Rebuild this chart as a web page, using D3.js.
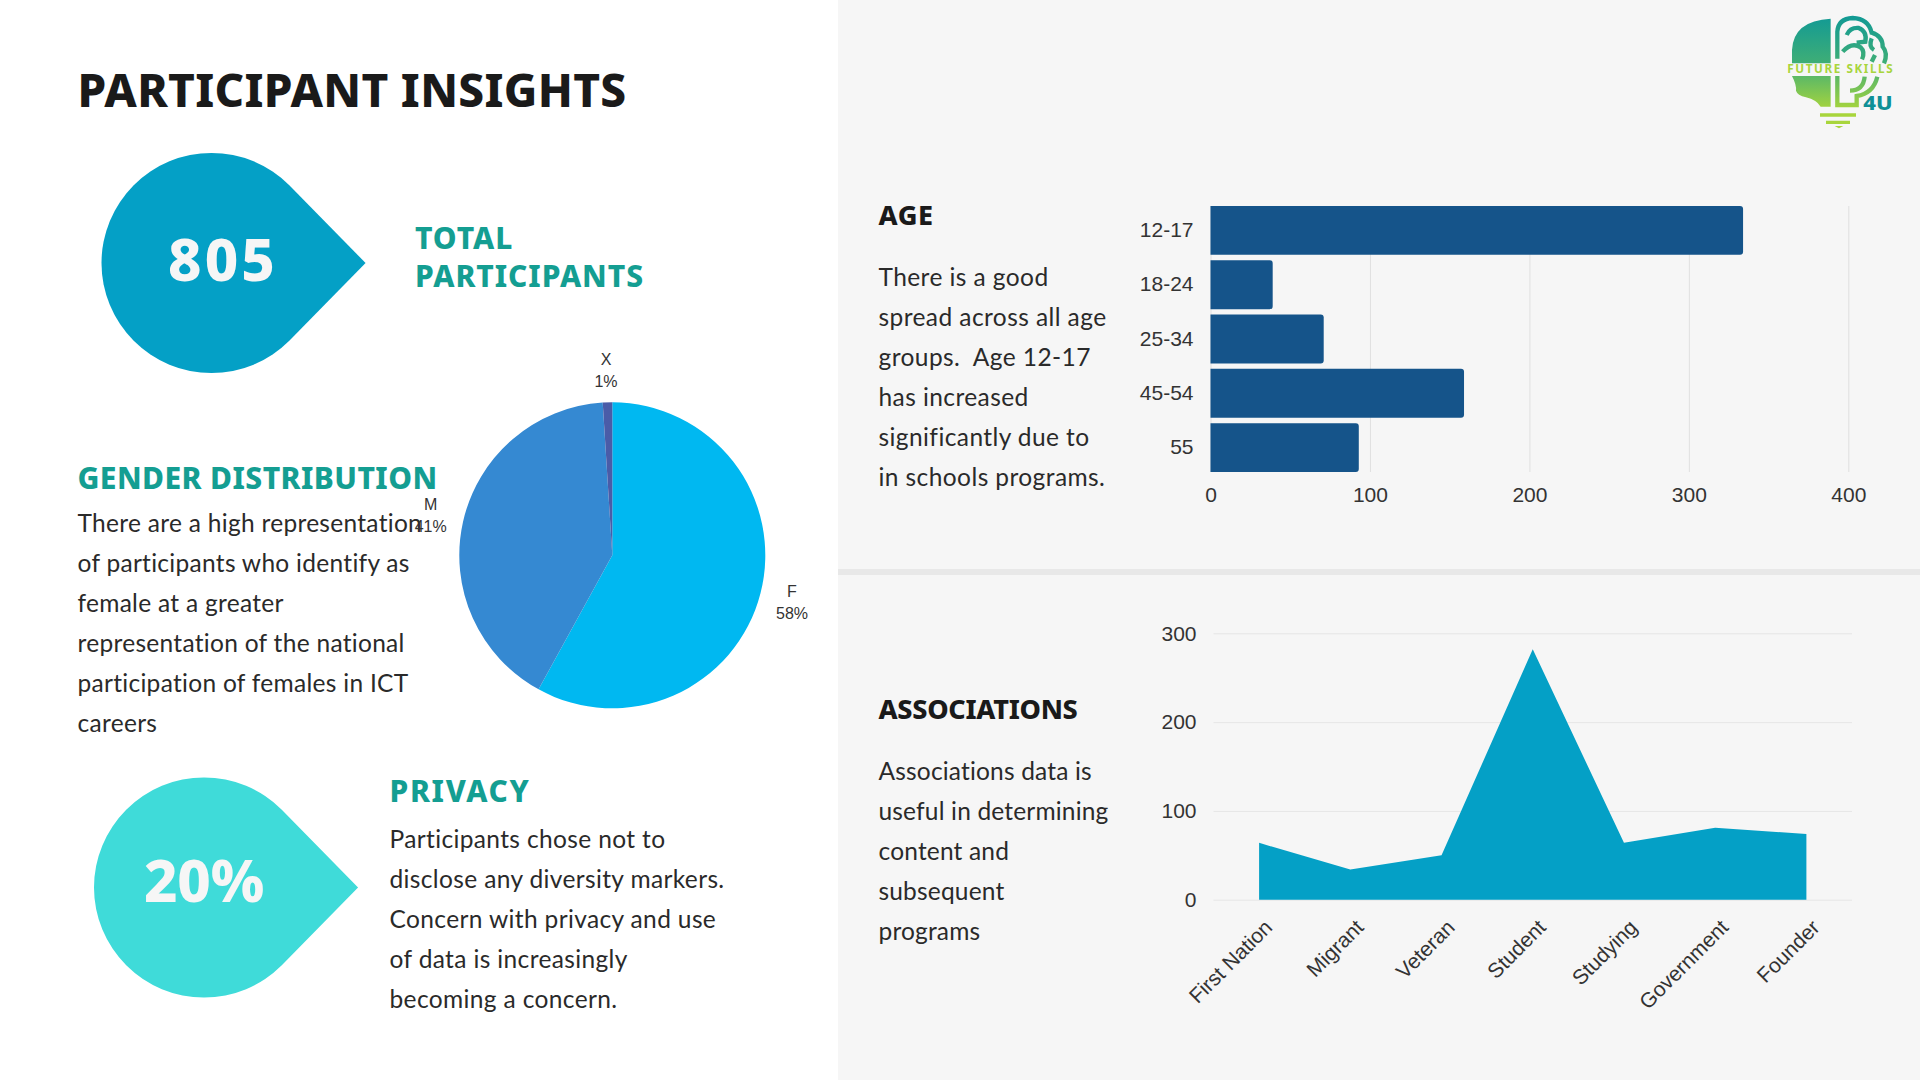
<!DOCTYPE html>
<html><head><meta charset="utf-8">
<script src="https://cdn.jsdelivr.net/npm/d3@7"></script>
<style>
html,body{margin:0;padding:0;background:#fff;overflow:hidden}
svg{display:block}
.body{font-family:Lato,sans-serif;font-size:24.5px;fill:#2a2a2a}
.head{font-family:"Noto Sans",sans-serif;font-weight:800}
.chart{font-family:"Liberation Sans",Arial,sans-serif;fill:#333}
</style></head><body>
<svg id="c" width="1920" height="1080"></svg>
<script>
// ---------- data ----------
const genderLabels = ["F", "M", "X"];
const genderValues = [58, 41, 1];
const genderColors = ["#00b8f1", "#3589d2", "#4a5ca8"];
const ageCategories = ["12-17", "18-24", "25-34", "45-54", "55"];
const ageValues = [334, 39, 71, 159, 93];
const ageTicks = [0, 100, 200, 300, 400];
const assocCategories = ["First Nation", "Migrant", "Veteran", "Student", "Studying", "Government", "Founder"];
const assocValues = [64, 34, 50, 282, 64, 81, 74];
const assocTicks = [0, 100, 200, 300];
const genderText = ["There are a high representation", "of participants who identify as", "female at a greater", "representation of the national", "participation of females in ICT", "careers"];
const privacyText = ["Participants chose not to", "disclose any diversity markers.", "Concern with privacy and use", "of data is increasingly", "becoming a concern."];
const ageText = ["There is a good", "spread across all age", "groups.  Age 12-17", "has increased", "significantly due to", "in schools programs."];
const assocText = ["Associations data is", "useful in determining", "content and", "subsequent", "programs"];

const svg = d3.select("#c");
const defs = svg.append("defs");

// fit a block of lines to a measured width via letter spacing
function fit(sel, w) {
  let maxLen = 0, n = 1;
  sel.each(function () {
    const l = this.getComputedTextLength();
    if (l > maxLen) { maxLen = l; n = this.textContent.length; }
  });
  sel.style("letter-spacing", ((w - maxLen) / n) + "px");
}
function textBlock(lines, x, y0, lh, w) {
  const s = svg.append("g").selectAll("text").data(lines).join("text")
    .attr("class", "body").attr("xml:space", "preserve").style("white-space", "pre")
    .attr("x", x).attr("y", (d, i) => y0 + i * lh).text(d => d);
  fit(s, w);
}
function heading(lines, x, y0, lh, size, color, w) {
  const s = svg.append("g").selectAll("text").data(lines).join("text")
    .attr("class", "head").attr("x", x).attr("y", (d, i) => y0 + i * lh)
    .attr("font-size", size).attr("fill", color).text(d => d);
  fit(s, w);
}
function drop(cx, cy, r, color) {
  const k = r * Math.SQRT1_2, p = d3.path();
  p.moveTo(cx + r * Math.SQRT2 - 1.5, cy);
  p.lineTo(cx + k, cy - k);
  p.arc(cx, cy, r, -Math.PI / 4, Math.PI / 4, true);
  p.closePath();
  svg.append("path").attr("d", p.toString()).attr("fill", color);
}

// ---------- backgrounds ----------
svg.append("rect").attr("x", 838).attr("y", 0).attr("width", 1082).attr("height", 1080).attr("fill", "#f6f6f6");
svg.append("rect").attr("x", 838).attr("y", 569).attr("width", 1082).attr("height", 6).attr("fill", "#e8e8e8");

// ---------- left column ----------
heading(["PARTICIPANT INSIGHTS"], 77.5, 107, 0, 46, "#1a1a1a", 549);
drop(211.5, 263, 110, "#04a0c6");
heading(["805"], 168, 281, 0, 58, "#f6f6f6", 110);
heading(["TOTAL", "PARTICIPANTS"], 415, 249, 38, 30, "#149e92", 229);
heading(["GENDER DISTRIBUTION"], 77.5, 488.5, 0, 30, "#149e92", 360);
textBlock(genderText, 77.5, 532, 40, 345);
drop(204, 887.5, 110, "#3fdbd9");
heading(["20%"], 144, 902, 0, 58, "#f6f6f6", 120);
heading(["PRIVACY"], 389.5, 801.5, 0, 30, "#149e92", 141);
textBlock(privacyText, 389.5, 848, 40, 335);

// ---------- pie ----------
const pieG = svg.append("g").attr("transform", "translate(612.3,555.3)");
const pieData = d3.pie().sort(null)(genderValues);
const arc = d3.arc().innerRadius(0).outerRadius(153);
pieG.selectAll("path").data(pieData).join("path")
  .attr("d", arc).attr("fill", (d, i) => genderColors[i]);
const labelPos = [[792, 596.5], [430.7, 509.5], [606, 364.5]];
const labG = svg.append("g").attr("class", "chart").attr("font-size", 16).attr("text-anchor", "middle").attr("fill", "#333");
genderLabels.forEach((n, i) => {
  labG.append("text").attr("x", labelPos[i][0]).attr("y", labelPos[i][1]).text(n);
  labG.append("text").attr("x", labelPos[i][0]).attr("y", labelPos[i][1] + 22).text(genderValues[i] + "%");
});

// ---------- age ----------
heading(["AGE"], 878.5, 224.5, 0, 27, "#1a1a1a", 55);
textBlock(ageText, 878.5, 286, 40, 228);
const xAge = d3.scaleLinear().domain([0, 400]).range([1210.5, 1848.3]);
const yAge = d3.scaleBand().domain(ageCategories).range([206, 472]).paddingInner(0.1);
const ageAxisX = svg.append("g").attr("transform", "translate(0,472)")
  .call(d3.axisBottom(xAge).tickValues(ageTicks).tickSize(-266).tickPadding(15));
ageAxisX.select(".domain").remove();
ageAxisX.selectAll("line").attr("stroke", "#e0e0e0");
const ageAxisY = svg.append("g").attr("transform", "translate(1210.5,0)")
  .call(d3.axisLeft(yAge).tickSize(0).tickPadding(17));
ageAxisY.select(".domain").remove();
svg.append("g").selectAll("path").data(ageValues).join("path")
  .attr("fill", "#15548a")
  .attr("d", (d, i) => {
    const x0 = xAge(0), x1 = xAge(d), y0 = yAge(ageCategories[i]), h = yAge.bandwidth(), r = 3;
    const p = d3.path();
    p.moveTo(x0, y0); p.lineTo(x1 - r, y0); p.arcTo(x1, y0, x1, y0 + r, r);
    p.lineTo(x1, y0 + h - r); p.arcTo(x1, y0 + h, x1 - r, y0 + h, r); p.lineTo(x0, y0 + h); p.closePath();
    return p.toString();
  });

// ---------- associations ----------
heading(["ASSOCIATIONS"], 878.5, 718.5, 0, 27, "#1a1a1a", 199);
textBlock(assocText, 878.5, 780, 40, 230);
const xAssoc = d3.scalePoint().domain(assocCategories).range([1213.5, 1852]).padding(0.5);
const yAssoc = d3.scaleLinear().domain([0, 300]).range([899.7, 633.3]);
const assocY = svg.append("g").attr("transform", "translate(1213.5,0)")
  .call(d3.axisLeft(yAssoc).tickValues(assocTicks).tickSize(-638.5).tickPadding(17));
assocY.select(".domain").remove();
assocY.selectAll("line").attr("stroke", "#e6e6e6");
svg.append("path").datum(assocValues).attr("fill", "#04a0c6")
  .attr("d", d3.area().x((d, i) => xAssoc(assocCategories[i])).y0(yAssoc(0)).y1(d => yAssoc(d)));
const assocX = svg.append("g").attr("transform", "translate(0,899.7)")
  .call(d3.axisBottom(xAssoc).tickSize(0).tickPadding(0));
assocX.select(".domain").remove();
assocX.selectAll("text").attr("text-anchor", "end").attr("dy", 0)
  .attr("transform", "translate(14,29) rotate(-45)");

svg.selectAll(".tick text").attr("class", "chart").attr("font-size", 21)
  .attr("font-family", "Liberation Sans, Arial, sans-serif").attr("fill", "#333");

// ---------- logo (decorative) ----------
const g2 = defs.append("linearGradient").attr("id", "lg2").attr("gradientUnits", "userSpaceOnUse")
  .attr("x1", 0).attr("y1", 50).attr("x2", 0).attr("y2", 330);
g2.append("stop").attr("offset", 0).attr("stop-color", "#129a94");
g2.append("stop").attr("offset", 0.5).attr("stop-color", "#3fae76");
g2.append("stop").attr("offset", 1).attr("stop-color", "#a8d53c");
const logo = svg.append("g").attr("transform", "translate(1700,0) scale(0.33333)");
logo.append("path").attr("fill", "url(#lg2)")
  .attr("d", "M392,56 V190 H276 V150 Q280,62 392,56 Z M276,228 H392 V320 H362 Q350,300 318,292 Q292,286 288,272 Q290,255 276,228 Z");
logo.append("path").attr("fill", "none").attr("stroke", "url(#lg2)").attr("stroke-width", 13)
  .attr("d", "M412,176 V95 Q415,56 458,54 Q505,56 515,98 Q548,108 548,140 Q565,160 552,190 M440,105 Q450,82 476,84 Q502,94 496,125 L470,128 M428,155 Q455,125 482,142 Q496,155 486,178 M515,115 Q505,140 522,150 M525,165 L515,185 M412,228 V315 H470 V288 Q520,280 532,230 M450,272 Q490,272 494,230");
logo.append("path").attr("fill", "#a8d53c")
  .attr("d", "M360,340 H468 V350 H360 Z M378,362 H450 V372 H378 Z M404,378 H430 L417,385 Z");
logo.append("text").attr("x", 262).attr("y", 219).attr("font-family", "Noto Sans").attr("font-weight", 700)
  .attr("font-size", 35).attr("fill", "#a8d53c").attr("textLength", 316).attr("lengthAdjust", "spacing").text("FUTURE SKILLS");
logo.append("text").attr("x", 490).attr("y", 329).attr("font-family", "Noto Sans").attr("font-weight", 800)
  .attr("font-size", 60).attr("fill", "#0f8f96").attr("textLength", 88).attr("lengthAdjust", "spacingAndGlyphs").text("4U");
</script>
</body></html>
